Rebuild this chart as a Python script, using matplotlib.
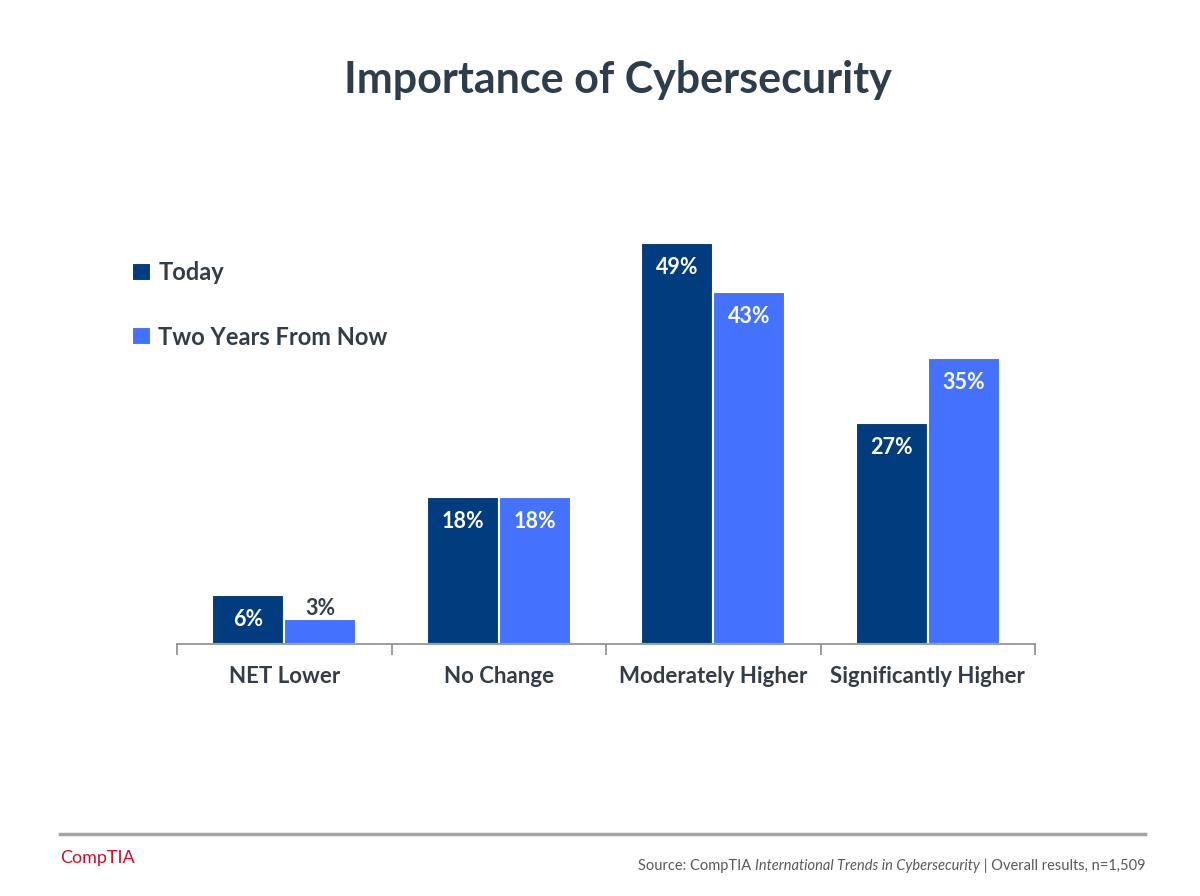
import numpy as np
import matplotlib.pyplot as plt

categories = ["NET Lower", "No Change", "Moderately Higher", "Significantly Higher"]
today = [6, 18, 49, 27]
two_years = [3, 18, 43, 35]
series_names = ["Today", "Two Years From Now"]

dark = "#003C7E"
light = "#4472FF"
txt = "#333D47"
font = "Lato"

fig = plt.figure(figsize=(12, 8.96), dpi=100)
ax = fig.add_axes([177 / 1200, 1 - 644 / 896, (1035 - 177) / 1200, 450 / 896])

x = np.arange(len(categories))
w = 0.335
b1 = ax.bar(x - w / 2, today, w, color=dark, edgecolor="white", linewidth=1.5, label=series_names[0])
b2 = ax.bar(x + w / 2, two_years, w, color=light, edgecolor="white", linewidth=1.5, label=series_names[1])

for bars, vals in [(b1, today), (b2, two_years)]:
    for r, v in zip(bars, vals):
        cx = r.get_x() + r.get_width() / 2
        if v < 5:
            ax.text(cx, v + 0.05, f"{v}%", ha="center", va="bottom", color=txt,
                    fontsize=15.5, fontweight="bold", family=font)
        else:
            ax.text(cx, v - 3, f"{v}%", ha="center", va="center", color="white",
                    fontsize=15.5, fontweight="bold", family=font)

ax.set_xlim(-0.5, len(categories) - 0.5)
ax.set_ylim(0, 55)
ax.set_yticks([])
for s in ["top", "right", "left"]:
    ax.spines[s].set_visible(False)
ax.spines["bottom"].set_color("#8C8C8C")
ax.spines["bottom"].set_linewidth(1.2)
ax.set_xticks(np.arange(-0.5, len(categories), 1.0))
ax.set_xticklabels([])
ax.set_xticks(x, minor=True)
ax.set_xticklabels(categories, minor=True, fontsize=16, fontweight="bold", color=txt, family=font)
ax.tick_params(axis="x", which="major", length=8, color="#8C8C8C", width=1.2)
ax.tick_params(axis="x", which="minor", length=0, pad=16)

leg = fig.legend(handles=[b1, b2], labels=series_names, loc="upper left",
                 bbox_to_anchor=(111 / 1200, 1 - 240 / 896), frameon=False,
                 prop={"family": font, "weight": "bold", "size": 17},
                 handlelength=0.8, handleheight=0.8, handletextpad=0.3, labelspacing=1.75)
for t in leg.get_texts():
    t.set_color(txt)

fig.text(618 / 1200, 1 - 80 / 896, "Importance of Cybersecurity", ha="center", va="center",
         fontsize=31, fontweight="bold", color="#2E3D4C", family=font)

fig.add_artist(plt.Line2D([60 / 1200, 1145 / 1200], [1 - 834 / 896] * 2, color="#A3A3A3", linewidth=2.5))
fig.text(60 / 1200, 1 - 858 / 896, "CompTIA", ha="left", va="center", fontsize=13,
         color="#C8102E", family=font)

# source line built right-to-left so the title part can be italic
parts = [("Source: CompTIA ", "normal"), ("International Trends in Cybersecurity", "italic"),
         (" | Overall results, n=1,509", "normal")]
renderer = fig.canvas.get_renderer()
xr = 1145
for s, style in reversed(parts):
    t = fig.text(xr / 1200, 1 - 866 / 896, s, ha="right", va="center", fontsize=10.5,
                 color="#595959", family=font, style=style)
    bb = t.get_window_extent(renderer)
    xr -= bb.width

fig.savefig("out.png", dpi=100)
